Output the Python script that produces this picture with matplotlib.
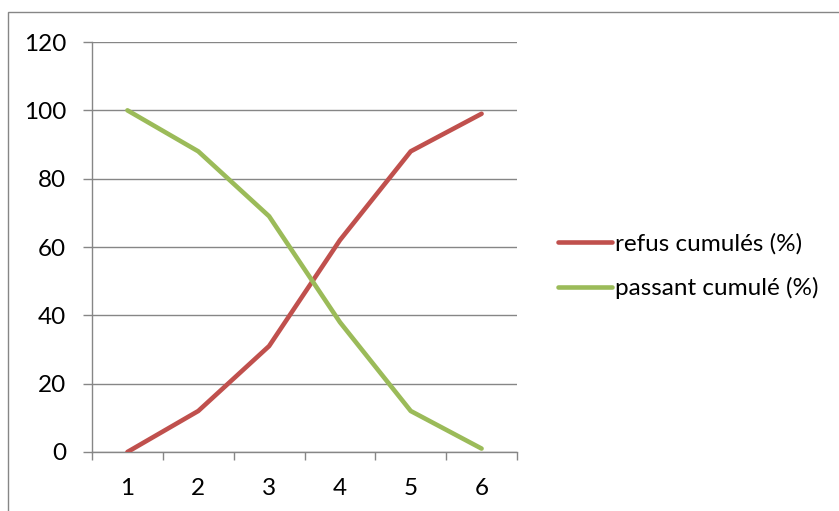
import matplotlib
matplotlib.use("Agg")
import matplotlib.pyplot as plt
from matplotlib.patches import Rectangle
from matplotlib.lines import Line2D

categories = [1, 2, 3, 4, 5, 6]
refus_cumules = [0, 12, 31, 62, 88, 99]
passant_cumule = [100, 88, 69, 38, 12, 1]
y_ticks = [0, 20, 40, 60, 80, 100, 120]

series_names = ["refus cumulés (%)", "passant cumulé (%)"]
red = "#C0504D"
green = "#9BBB59"
grid_col = "#868686"

plt.rcParams["font.family"] = ["Lato", "DejaVu Sans"]
FS = 17.5

W, H = 839, 511
fig = plt.figure(figsize=(W / 100, H / 100), dpi=100)

# outer chart frame
fig.patches.append(Rectangle((8 / W, -0.01), 1.0, 1 - 12 / H + 0.01,
                             transform=fig.transFigure, fill=False,
                             edgecolor=grid_col, linewidth=1.0))

left, right, top, bottom = 92, 517, 42, 452
ax = fig.add_axes([left / W, 1 - bottom / H, (right - left) / W, (bottom - top) / H])

x = list(range(1, len(categories) + 1))
ax.plot(x, refus_cumules, color=red, linewidth=3.3, solid_capstyle="round",
        solid_joinstyle="round", zorder=3)
ax.plot(x, passant_cumule, color=green, linewidth=3.3, solid_capstyle="round",
        solid_joinstyle="round", zorder=3)

ax.set_xlim(0.5, len(categories) + 0.5)
ax.set_ylim(0, 120)
ax.set_yticks(y_ticks)
ax.set_yticklabels([str(v) for v in y_ticks])
ax.yaxis.grid(True, color=grid_col, linewidth=1.0)
ax.set_axisbelow(True)

# category ticks sit between categories; labels centred on each category
ax.set_xticks([i + 0.5 for i in range(0, len(categories) + 1)])
ax.set_xticklabels([])
ax.set_xticks(x, minor=True)
ax.set_xticklabels([str(c) for c in categories], minor=True)
ax.tick_params(axis="x", which="minor", length=0, pad=19, labelsize=FS)
ax.tick_params(axis="x", which="major", length=5.8, color=grid_col, width=1.0)
ax.tick_params(axis="y", length=6.5, color=grid_col, width=1.0, pad=12, labelsize=FS)

for s in ["top", "right"]:
    ax.spines[s].set_visible(False)
for s in ["left", "bottom"]:
    ax.spines[s].set_color(grid_col)
    ax.spines[s].set_linewidth(1.0)

handles = [Line2D([], [], color=red, linewidth=3.3, solid_capstyle="round"),
           Line2D([], [], color=green, linewidth=3.3, solid_capstyle="round")]
fig.legend(handles, series_names, loc="center left",
           bbox_to_anchor=(546 / W, 1 - 266 / H), frameon=False,
           fontsize=FS, handlelength=2.2, handletextpad=0.15,
           labelspacing=0.95, borderpad=0)

fig.savefig("out.png", dpi=100)
